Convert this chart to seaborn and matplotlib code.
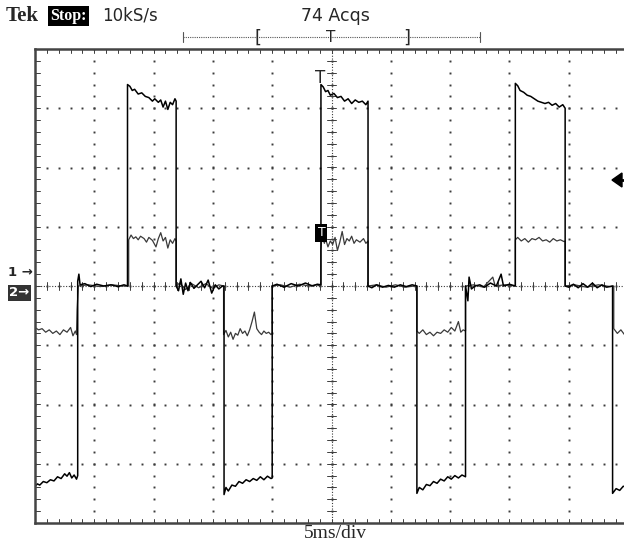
import numpy as np
import pandas as pd
import seaborn as sns
import matplotlib.pyplot as plt
from matplotlib.patches import Polygon

# time in ms (5 ms/div, screen centre = 0), amplitude in screen divisions
ch1_ms = [-25.0, -24.8, -24.6, -24.3, -24.0, -23.7, -23.4, -23.1, -22.8, -22.5, -22.3, -22.1, -21.9, -21.7, -21.5, -21.4,
          -21.4, -21.3, -21.2, -20.8, -20.3, -19.8, -19.2, -18.6, -18.0, -17.5, -17.2,
          -17.2, -17.0, -16.8, -16.6, -16.3, -16.0, -15.7, -15.4, -15.1, -14.9, -14.6, -14.4, -14.2, -14.0, -13.8, -13.6, -13.4, -13.2, -13.1,
          -13.1, -12.9, -12.7, -12.5, -12.3, -12.1, -11.9, -11.6, -11.3, -11.0, -10.7, -10.4, -10.1, -9.8, -9.5, -9.2, -9.06,
          -9.06, -8.9, -8.7, -8.4, -8.1, -7.8, -7.5, -7.2, -6.9, -6.6, -6.3, -6.0, -5.7, -5.4, -5.1, -5.0,
          -5.0, -4.6, -4.0, -3.4, -2.8, -2.2, -1.6, -1.2, -0.89,
          -0.89, -0.7, -0.5, -0.3, -0.1, 0.2, 0.5, 0.8, 1.1, 1.4, 1.7, 2.0, 2.3, 2.6, 2.9, 3.08,
          3.08, 3.4, 3.8, 4.3, 4.8, 5.3, 5.8, 6.3, 6.8, 7.2,
          7.2, 7.4, 7.7, 8.0, 8.3, 8.6, 8.9, 9.2, 9.5, 9.8, 10.1, 10.4, 10.7, 11.0, 11.3,
          11.3, 11.5, 11.6, 11.8, 12.1, 12.5, 12.9, 13.4, 13.9, 14.3, 14.5, 15.0, 15.5,
          15.5, 15.7, 15.9, 16.2, 16.5, 16.8, 17.1, 17.4, 17.7, 18.0, 18.3, 18.6, 18.9, 19.2, 19.5, 19.7,
          19.7, 20.0, 20.4, 20.8, 21.2, 21.6, 22.0, 22.4, 22.8, 23.2, 23.7,
          23.7, 24.0, 24.3, 24.6, 25.0]
ch1_div = [-3.38, -3.34, -3.36, -3.30, -3.32, -3.27, -3.29, -3.22, -3.25, -3.17, -3.21, -3.15, -3.24, -3.19, -3.26, -3.20,
           0.08, 0.20, 0.02, 0.04, -0.01, 0.03, 0.0, 0.02, -0.01, 0.02, 0.0,
           3.40, 3.37, 3.30, 3.32, 3.24, 3.26, 3.20, 3.18, 3.12, 3.16, 3.10, 3.14, 3.02, 3.12, 2.98, 3.10, 3.06, 3.16, 3.12,
           0.0, -0.08, 0.12, -0.14, 0.05, -0.08, 0.06, -0.04, 0.02, 0.08, -0.03, 0.10, -0.12, 0.02, -0.05, 0.0, 0.0,
           -3.52, -3.40, -3.46, -3.36, -3.38, -3.30, -3.33, -3.27, -3.30, -3.25, -3.28, -3.22, -3.27, -3.21, -3.25, -3.24,
           0.0, 0.03, -0.02, 0.04, 0.0, 0.05, 0.0, 0.03, 0.02,
           3.40, 3.36, 3.28, 3.30, 3.22, 3.25, 3.18, 3.20, 3.12, 3.16, 3.08, 3.14, 3.10, 3.12, 3.06, 3.12,
           0.0, -0.03, 0.02, -0.02, 0.01, -0.02, 0.02, -0.01, 0.02, 0.0,
           -3.50, -3.40, -3.44, -3.35, -3.37, -3.30, -3.33, -3.26, -3.29, -3.22, -3.26, -3.20, -3.24, -3.19, -3.22,
           0.0, -0.25, 0.15, -0.05, 0.0, 0.02, -0.02, 0.05, 0.0, 0.20, 0.0, 0.03, 0.0,
           3.42, 3.38, 3.30, 3.27, 3.22, 3.20, 3.16, 3.12, 3.10, 3.08, 3.10, 3.05, 3.08, 3.02, 3.06, 3.00,
           0.0, -0.02, 0.03, -0.03, 0.04, -0.02, 0.05, -0.03, 0.02, -0.02, 0.0,
           -3.50, -3.42, -3.45, -3.38, -3.40]

ch2_ms = [-25.0, -24.7, -24.4, -24.1, -23.8, -23.5, -23.2, -22.9, -22.6, -22.3, -22.0, -21.8, -21.6, -21.5,
          -21.45, -21.35, -20.5, -19.5, -18.5, -17.6, -17.1,
          -17.1, -16.9, -16.7, -16.5, -16.3, -16.1, -15.8, -15.6, -15.4, -15.1, -14.8, -14.6, -14.4, -14.2, -14.0, -13.8, -13.6, -13.4, -13.2, -13.1,
          -13.1, -12.8, -12.3, -11.8, -11.2, -10.6, -10.0, -9.5, -9.1,
          -9.1, -8.9, -8.7, -8.5, -8.3, -8.1, -7.9, -7.7, -7.5, -7.3, -7.1, -6.9, -6.7, -6.5, -6.3, -6.1, -5.9, -5.7, -5.5, -5.3, -5.1, -5.0,
          -5.0, -4.3, -3.5, -2.7, -1.9, -1.3, -0.9,
          -0.9, -0.8, -0.6, -0.5, -0.3, -0.1, 0.1, 0.3, 0.5, 0.7, 0.9, 1.1, 1.3, 1.5, 1.7, 1.9, 2.1, 2.4, 2.7, 2.9, 3.08,
          3.08, 3.8, 4.6, 5.4, 6.2, 7.0, 7.2,
          7.2, 7.4, 7.7, 8.0, 8.3, 8.6, 8.9, 9.2, 9.5, 9.8, 10.1, 10.4, 10.7, 10.9, 11.1, 11.3,
          11.3, 12.0, 12.8, 13.6, 13.8, 14.6, 15.5,
          15.5, 15.7, 16.0, 16.3, 16.6, 16.9, 17.2, 17.5, 17.8, 18.1, 18.4, 18.7, 19.0, 19.3, 19.6, 19.7,
          19.7, 20.5, 21.5, 22.5, 23.5, 23.8,
          23.8, 24.1, 24.4, 24.7, 25.0]
ch2_div = [-0.70, -0.74, -0.72, -0.78, -0.74, -0.80, -0.76, -0.82, -0.74, -0.78, -0.70, -0.84, -0.76, -0.82,
           -0.40, 0.0, 0.02, -0.01, 0.02, 0.0, 0.0,
           0.78, 0.86, 0.80, 0.83, 0.78, 0.84, 0.80, 0.74, 0.82, 0.77, 0.66, 0.80, 0.90, 0.76, 0.82, 0.64, 0.78, 0.72, 0.80, 0.76,
           0.0, 0.05, -0.06, 0.04, -0.03, 0.04, -0.04, 0.02, 0.0,
           -0.82, -0.75, -0.86, -0.78, -0.90, -0.80, -0.83, -0.72, -0.80, -0.76, -0.84, -0.74, -0.60, -0.44, -0.72, -0.78, -0.82, -0.76, -0.80, -0.78, -0.82, -0.80,
           0.0, 0.02, -0.02, 0.03, 0.0, 0.02, 0.0,
           0.60, 0.85, 0.72, 0.80, 0.66, 0.76, 0.70, 0.82, 0.60, 0.74, 0.92, 0.70, 0.80, 0.76, 0.84, 0.72, 0.78, 0.74, 0.80, 0.72, 0.76,
           0.0, 0.02, -0.02, 0.02, -0.02, 0.0, 0.0,
           -0.76, -0.80, -0.74, -0.82, -0.78, -0.84, -0.78, -0.80, -0.74, -0.78, -0.70, -0.76, -0.60, -0.78, -0.74, -0.76,
           0.0, 0.02, -0.02, 0.15, 0.0, 0.02, 0.0,
           0.78, 0.82, 0.76, 0.80, 0.74, 0.80, 0.78, 0.82, 0.76, 0.78, 0.74, 0.80, 0.76, 0.78, 0.75, 0.76,
           0.0, 0.02, -0.02, 0.02, -0.01, 0.0,
           -0.72, -0.80, -0.74, -0.82, -0.76]

W, H = 624, 544


def fx(px):
    return px / W


def fy(py):
    return 1 - py / H


sns.set_style('white')
plt.rcParams['font.family'] = ['DejaVu Sans']

fig = plt.figure(figsize=(W / 100, H / 100), dpi=100)
ax = fig.add_axes([fx(35), fy(523), 593 / W, 474 / H])
ax.set_xlim(-25, 25)
ax.set_ylim(-4, 4)

# graticule: dotted major lines, 5 minor dots per division
grid_col = '#3c3c3c'
dot = dict(ls='none', marker='s', ms=1.4, mew=0, color=grid_col)
minor_y = np.arange(-4, 4.01, 0.2)
minor_x = np.arange(-25, 25.01, 1.0)
for gx in np.arange(-20, 25, 5):
    ax.plot(np.full_like(minor_y, gx), minor_y, **dot)
for gy in np.arange(-3, 4, 1):
    ax.plot(minor_x, np.full_like(minor_x, gy), **dot)
# centre cross with tick marks
ax.axvline(0, color=grid_col, lw=0.8, ls=(0, (1, 1.5)))
ax.axhline(0, color=grid_col, lw=0.8, ls=(0, (1, 1.5)))
for v in minor_y:
    ax.plot([-0.35, 0.35], [v, v], color=grid_col, lw=0.7)
for v in minor_x:
    ax.plot([v, v], [-0.07, 0.07], color=grid_col, lw=0.7)
# ticks on the inner border
for v in minor_x:
    ax.plot([v, v], [3.93, 4], color=grid_col, lw=0.7)
    ax.plot([v, v], [-4, -3.93], color=grid_col, lw=0.7)
for v in minor_y:
    ax.plot([-25, -24.6], [v, v], color=grid_col, lw=0.7)

df1 = pd.DataFrame({'ms': ch1_ms, 'div': ch1_div})
df2 = pd.DataFrame({'ms': ch2_ms, 'div': ch2_div})
sns.lineplot(data=df2, x='ms', y='div', estimator=None, sort=False, color='#3a3a3a', lw=0.9, ax=ax)
sns.lineplot(data=df1, x='ms', y='div', estimator=None, sort=False, color='black', lw=1.1, ax=ax)

ax.set_xticks([])
ax.set_yticks([])
ax.set_xlabel('')
ax.set_ylabel('')
for s in ax.spines.values():
    s.set_color('#444444')
    s.set_linewidth(1.8)

# header
fig.text(fx(6), fy(16), 'Tek', fontsize=15, fontweight='bold', family='Liberation Serif', va='center')
fig.text(fx(50), fy(16), 'Stop:', fontsize=11.5, fontweight='bold', color='white', va='center',
         family='Liberation Serif', bbox=dict(fc='black', ec='none', pad=1.6))
fig.text(fx(102), fy(16), '10kS/s', fontsize=12, va='center')
fig.text(fx(335), fy(16), '74 Acqs', fontsize=12.5, va='center', ha='center')
fig.add_artist(plt.Line2D([fx(183), fx(480)], [fy(37), fy(37)], color='#555555', lw=0.8, ls=(0, (1, 1))))
for px in (183, 480):
    fig.add_artist(plt.Line2D([fx(px), fx(px)], [fy(32), fy(42)], color='#555555', lw=0.8))
fig.text(fx(258), fy(38), '[', fontsize=13, ha='center', va='center')
fig.text(fx(331), fy(37), 'T', fontsize=11, ha='center', va='center')
fig.text(fx(407), fy(38), ']', fontsize=13, ha='center', va='center')

# channel markers
fig.text(fx(8), fy(273), '1 →', fontsize=9.5, va='center', fontweight='bold')
fig.text(fx(9), fy(293), '2→', fontsize=9.5, va='center', color='white', fontweight='bold',
         bbox=dict(fc='#333333', ec='none', pad=1.0))

# trigger markers
fig.text(fx(320), fy(78), 'T', fontsize=12, ha='center', va='center')
fig.text(fx(321.5), fy(233), 'T', fontsize=9, ha='center', va='center', color='white',
         bbox=dict(fc='black', ec='none', pad=1.5))
fig.add_artist(Polygon([[fx(612), fy(180)], [fx(622), fy(173)], [fx(622), fy(187)]],
                       closed=True, color='black', transform=fig.transFigure))
fig.add_artist(plt.Line2D([fx(618), fx(624)], [fy(180), fy(180)], color='black', lw=2))

fig.text(fx(335), fy(533), '5ms/div', fontsize=14, ha='center', va='center', family='Liberation Serif')

fig.savefig('out.png', dpi=100)
